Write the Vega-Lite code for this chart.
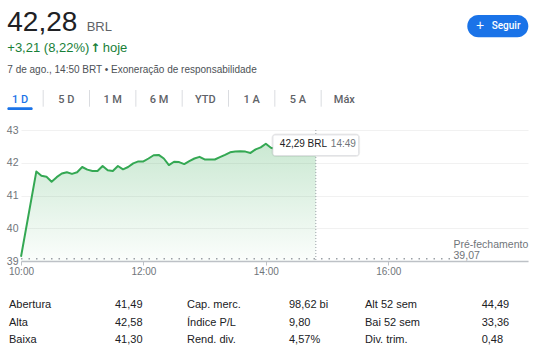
{
  "$schema": "https://vega.github.io/schema/vega-lite/v6.json",
  "width": 507,
  "height": 131,
  "autosize": {"type": "none"},
  "padding": {"left": 21, "top": 130, "right": 7, "bottom": 96},
  "background": "#ffffff",
  "config": {
    "font": "Arial, 'Liberation Sans', sans-serif",
    "view": {"stroke": null},
    "text": {"font": "Arial, 'Liberation Sans', sans-serif"}
  },
  "datasets": {
    "prices": [
      {"t": "2024-08-07T10:00", "price": 39.13},
      {"t": "2024-08-07T10:15", "price": 41.73},
      {"t": "2024-08-07T10:20", "price": 41.60},
      {"t": "2024-08-07T10:25", "price": 41.57},
      {"t": "2024-08-07T10:30", "price": 41.42},
      {"t": "2024-08-07T10:35", "price": 41.56},
      {"t": "2024-08-07T10:40", "price": 41.67},
      {"t": "2024-08-07T10:45", "price": 41.71},
      {"t": "2024-08-07T10:50", "price": 41.66},
      {"t": "2024-08-07T10:55", "price": 41.71},
      {"t": "2024-08-07T11:00", "price": 41.87},
      {"t": "2024-08-07T11:05", "price": 41.79},
      {"t": "2024-08-07T11:10", "price": 41.75},
      {"t": "2024-08-07T11:15", "price": 41.75},
      {"t": "2024-08-07T11:20", "price": 41.90},
      {"t": "2024-08-07T11:25", "price": 41.77},
      {"t": "2024-08-07T11:30", "price": 41.75},
      {"t": "2024-08-07T11:35", "price": 41.90},
      {"t": "2024-08-07T11:40", "price": 41.80},
      {"t": "2024-08-07T11:45", "price": 41.87},
      {"t": "2024-08-07T11:50", "price": 41.98},
      {"t": "2024-08-07T11:55", "price": 42.04},
      {"t": "2024-08-07T12:00", "price": 42.04},
      {"t": "2024-08-07T12:05", "price": 42.13},
      {"t": "2024-08-07T12:10", "price": 42.23},
      {"t": "2024-08-07T12:15", "price": 42.24},
      {"t": "2024-08-07T12:20", "price": 42.13},
      {"t": "2024-08-07T12:25", "price": 41.93},
      {"t": "2024-08-07T12:30", "price": 42.03},
      {"t": "2024-08-07T12:35", "price": 42.02},
      {"t": "2024-08-07T12:40", "price": 41.96},
      {"t": "2024-08-07T12:45", "price": 42.05},
      {"t": "2024-08-07T12:50", "price": 42.13},
      {"t": "2024-08-07T12:55", "price": 42.18},
      {"t": "2024-08-07T13:00", "price": 42.10},
      {"t": "2024-08-07T13:05", "price": 42.10},
      {"t": "2024-08-07T13:10", "price": 42.10},
      {"t": "2024-08-07T13:15", "price": 42.17},
      {"t": "2024-08-07T13:20", "price": 42.24},
      {"t": "2024-08-07T13:25", "price": 42.32},
      {"t": "2024-08-07T13:30", "price": 42.34},
      {"t": "2024-08-07T13:35", "price": 42.35},
      {"t": "2024-08-07T13:40", "price": 42.34},
      {"t": "2024-08-07T13:45", "price": 42.30},
      {"t": "2024-08-07T13:50", "price": 42.41},
      {"t": "2024-08-07T13:55", "price": 42.47},
      {"t": "2024-08-07T14:00", "price": 42.58},
      {"t": "2024-08-07T14:05", "price": 42.46},
      {"t": "2024-08-07T14:10", "price": 42.42},
      {"t": "2024-08-07T14:15", "price": 42.38},
      {"t": "2024-08-07T14:20", "price": 42.36},
      {"t": "2024-08-07T14:25", "price": 42.33},
      {"t": "2024-08-07T14:30", "price": 42.31},
      {"t": "2024-08-07T14:35", "price": 42.32},
      {"t": "2024-08-07T14:40", "price": 42.30},
      {"t": "2024-08-07T14:45", "price": 42.31},
      {"t": "2024-08-07T14:49", "price": 42.29}
    ],
    "prev": [
      {"start": "2024-08-07T10:00", "end": "2024-08-07T17:04", "close": 39.07, "label": "Pré-fechamento", "value": "39,07"}
    ],
    "hover": [
      {"t": "2024-08-07T14:49", "price": 42.29, "priceLabel": "42,29 BRL", "timeLabel": "14:49"}
    ],
    "tabs": [
      {"tab": "1 D"}, {"tab": "5 D"}, {"tab": "1 M"}, {"tab": "6 M"},
      {"tab": "YTD"}, {"tab": "1 A"}, {"tab": "5 A"}, {"tab": "Máx"}
    ],
    "stats": [
      {"line": 1, "col": 1, "label": "Abertura", "value": "41,49"},
      {"line": 2, "col": 1, "label": "Alta", "value": "42,58"},
      {"line": 3, "col": 1, "label": "Baixa", "value": "41,30"},
      {"line": 1, "col": 2, "label": "Cap. merc.", "value": "98,62 bi"},
      {"line": 2, "col": 2, "label": "Índice P/L", "value": "9,80"},
      {"line": 3, "col": 2, "label": "Rend. div.", "value": "4,57%"},
      {"line": 1, "col": 3, "label": "Alt 52 sem", "value": "44,49"},
      {"line": 2, "col": 3, "label": "Bai 52 sem", "value": "33,36"},
      {"line": 3, "col": 3, "label": "Div. trim.", "value": "0,48"}
    ]
  },
  "layer": [
    {
      "encoding": {
        "y": {
          "type": "quantitative",
          "scale": {"domain": [39, 43], "zero": false, "nice": false},
          "axis": {
            "values": [39, 40, 41, 42, 43],
            "tickCount": 5,
            "title": null,
            "grid": true,
            "gridColor": "#f1f1f1",
            "domain": false,
            "ticks": false,
            "labelPadding": 3,
            "labelFontSize": 10.5,
            "labelColor": "#70757a",
            "labelFlush": false,
            "labelOverlap": false
          }
        }
      },
      "layer": [
        {
          "data": {"name": "prices"},
          "mark": {
            "type": "area",
            "opacity": 1,
            "color": {
              "gradient": "linear",
              "x1": 1, "y1": 1, "x2": 1, "y2": 0,
              "stops": [
                {"offset": 0, "color": "rgba(52,168,83,0.02)"},
                {"offset": 1, "color": "rgba(52,168,83,0.26)"}
              ]
            }
          },
          "encoding": {
            "x": {
              "field": "t", "type": "temporal",
              "scale": {
                "domain": [
                  {"year": 2024, "month": 8, "date": 7, "hours": 10},
                  {"year": 2024, "month": 8, "date": 7, "hours": 18, "minutes": 17}
                ],
                "nice": false
              },
              "axis": {
                "values": [
                  {"year": 2024, "month": 8, "date": 7, "hours": 10},
                  {"year": 2024, "month": 8, "date": 7, "hours": 12},
                  {"year": 2024, "month": 8, "date": 7, "hours": 14},
                  {"year": 2024, "month": 8, "date": 7, "hours": 16}
                ],
                "format": "%H:%M",
                "title": null,
                "grid": false,
                "labelFontSize": 10,
                "labelColor": "#70757a",
                "labelPadding": 1,
                "labelFlush": false,
                "labelOverlap": false,
                "tickSize": 4,
                "tickColor": "#bdc1c6",
                "domainColor": "#bdc1c6",
                "domainWidth": 1.5
              }
            },
            "y": {"field": "price", "type": "quantitative"},
            "y2": {"datum": 39}
          }
        },
        {
          "data": {"name": "prices"},
          "mark": {"type": "line", "color": "#34a853", "strokeWidth": 2, "strokeJoin": "round"},
          "encoding": {
            "x": {"field": "t", "type": "temporal"},
            "y": {"field": "price", "type": "quantitative"}
          }
        },
        {
          "data": {"name": "prev"},
          "mark": {"type": "rule", "color": "#9aa0a6", "strokeWidth": 1.5, "strokeDash": [1.5, 6]},
          "encoding": {
            "x": {"field": "start", "type": "temporal"},
            "x2": {"field": "end"},
            "y": {"field": "close", "type": "quantitative"}
          }
        },
        {
          "data": {"name": "prev"},
          "mark": {"type": "text", "align": "left", "baseline": "alphabetic", "dy": -11, "fontSize": 10.5, "color": "#70757a"},
          "encoding": {
            "x": {"field": "end", "type": "temporal"},
            "y": {"field": "close", "type": "quantitative"},
            "text": {"field": "label"}
          }
        },
        {
          "data": {"name": "prev"},
          "mark": {"type": "text", "align": "left", "baseline": "alphabetic", "dy": 0, "fontSize": 10.5, "color": "#70757a"},
          "encoding": {
            "x": {"field": "end", "type": "temporal"},
            "y": {"field": "close", "type": "quantitative"},
            "text": {"field": "value"}
          }
        },
        {
          "data": {"name": "hover"},
          "mark": {"type": "rule", "color": "#9aa0a6", "strokeWidth": 1, "strokeDash": [1, 2]},
          "encoding": {
            "x": {"field": "t", "type": "temporal"}
          }
        },
        {
          "data": {"name": "hover"},
          "mark": {"type": "rect", "fill": "#ffffff", "stroke": "#000000", "strokeOpacity": 0.07, "strokeWidth": 3, "cornerRadius": 3},
          "encoding": {
            "x": {"datum": {"year": 2024, "month": 8, "date": 7, "hours": 14, "minutes": 7}, "type": "temporal"},
            "x2": {"datum": {"year": 2024, "month": 8, "date": 7, "hours": 15, "minutes": 31}},
            "y": {"datum": 42.85, "type": "quantitative"},
            "y2": {"datum": 42.22}
          }
        },
        {
          "data": {"name": "hover"},
          "mark": {"type": "rect", "fill": "#ffffff", "stroke": "#dadce0", "strokeWidth": 0.8, "cornerRadius": 2},
          "encoding": {
            "x": {"datum": {"year": 2024, "month": 8, "date": 7, "hours": 14, "minutes": 7}, "type": "temporal"},
            "x2": {"datum": {"year": 2024, "month": 8, "date": 7, "hours": 15, "minutes": 31}},
            "y": {"datum": 42.85, "type": "quantitative"},
            "y2": {"datum": 42.22}
          }
        },
        {
          "data": {"name": "hover"},
          "mark": {"type": "text", "align": "left", "baseline": "alphabetic", "dx": -36, "dy": -6, "fontSize": 10, "color": "#202124"},
          "encoding": {
            "x": {"field": "t", "type": "temporal"},
            "y": {"field": "price", "type": "quantitative"},
            "text": {"field": "priceLabel"}
          }
        },
        {
          "data": {"name": "hover"},
          "mark": {"type": "text", "align": "left", "baseline": "alphabetic", "dx": 15, "dy": -6, "fontSize": 10, "color": "#70757a"},
          "encoding": {
            "x": {"field": "t", "type": "temporal"},
            "y": {"field": "price", "type": "quantitative"},
            "text": {"field": "timeLabel"}
          }
        }
      ]
    },
    {
      "data": {"name": "tabs"},
      "layer": [
        {
          "mark": {"type": "text", "fontSize": 11, "fontWeight": 500, "font": "Roboto", "align": "center", "baseline": "alphabetic"},
          "encoding": {
            "x": {
              "field": "tab", "type": "nominal", "sort": null,
              "scale": {
                "type": "band",
                "domain": ["1 D", "5 D", "1 M", "6 M", "YTD", "1 A", "5 A", "Máx"],
                "range": [-24.15, 346.5],
                "paddingInner": 0, "paddingOuter": 0
              },
              "axis": null
            },
            "y": {"value": -27.3},
            "text": {"field": "tab"},
            "color": {"condition": {"test": "datum.tab === '1 D'", "value": "#1a73e8"}, "value": "#5f6368"}
          }
        },
        {
          "transform": [{"filter": "datum.tab !== 'Máx'"}],
          "mark": {"type": "rule", "color": "#dadce0", "strokeWidth": 1},
          "encoding": {
            "x": {"field": "tab", "type": "nominal", "bandPosition": 1},
            "y": {"value": -40},
            "y2": {"value": -23.3}
          }
        },
        {
          "transform": [{"filter": "datum.tab === '1 D'"}],
          "mark": {"type": "bar", "width": 25.4, "color": "#1a73e8", "cornerRadius": 1.5},
          "encoding": {
            "x": {"field": "tab", "type": "nominal"},
            "y": {"value": -22.7},
            "y2": {"value": -20}
          }
        }
      ]
    },
    {
      "data": {"name": "stats"},
      "layer": [
        {
          "mark": {"type": "text", "align": "left", "baseline": "alphabetic", "fontSize": 11, "color": "#202124"},
          "encoding": {
            "x": {"field": "col", "type": "ordinal", "scale": {"type": "point", "range": [-12, 344], "padding": 0}, "axis": null},
            "y": {"field": "line", "type": "ordinal", "scale": {"type": "point", "range": [177.7, 213.3], "padding": 0}, "axis": null},
            "text": {"field": "label"}
          }
        },
        {
          "mark": {"type": "text", "align": "left", "baseline": "alphabetic", "fontSize": 11, "color": "#202124"},
          "encoding": {
            "x": {"field": "col", "type": "quantitative", "scale": {"domain": [1, 2, 3], "range": [94, 268, 460.7], "zero": false, "nice": false}, "axis": null},
            "y": {"field": "line", "type": "ordinal"},
            "text": {"field": "value"}
          }
        }
      ],
      "resolve": {"scale": {"x": "independent"}}
    },
    {
      "data": {"values": [{"text": "42,28"}]},
      "mark": {"type": "text", "align": "left", "baseline": "alphabetic", "fontSize": 28, "color": "#202124"},
      "encoding": {"x": {"value": -13.7}, "y": {"value": -99.3}, "text": {"field": "text"}}
    },
    {
      "data": {"values": [{"text": "BRL"}]},
      "mark": {"type": "text", "align": "left", "baseline": "alphabetic", "fontSize": 13, "color": "#5f6368"},
      "encoding": {"x": {"value": 65.7}, "y": {"value": -99.3}, "text": {"field": "text"}}
    },
    {
      "data": {"values": [{"text": "+3,21 (8,22%)"}]},
      "mark": {"type": "text", "align": "left", "baseline": "alphabetic", "fontSize": 13, "color": "#188038"},
      "encoding": {"x": {"value": -13.7}, "y": {"value": -77.7}, "text": {"field": "text"}}
    },
    {
      "data": {"values": [{"text": "↑"}]},
      "mark": {"type": "text", "align": "left", "baseline": "alphabetic", "fontSize": 12, "fontWeight": "bold", "font": "DejaVu Sans", "color": "#188038"},
      "encoding": {"x": {"value": 69.3}, "y": {"value": -78}, "text": {"field": "text"}}
    },
    {
      "data": {"values": [{"text": "hoje"}]},
      "mark": {"type": "text", "align": "left", "baseline": "alphabetic", "fontSize": 13, "color": "#188038"},
      "encoding": {"x": {"value": 81.7}, "y": {"value": -77.7}, "text": {"field": "text"}}
    },
    {
      "data": {"values": [{"text": "7 de ago., 14:50 BRT • Exoneração de responsabilidade"}]},
      "mark": {"type": "text", "align": "left", "baseline": "alphabetic", "fontSize": 10, "color": "#4d5156"},
      "encoding": {"x": {"value": -13.7}, "y": {"value": -57.3}, "text": {"field": "text"}}
    },
    {
      "data": {"values": [{"text": "Seguir"}]},
      "mark": {"type": "rect", "color": "#1a73e8", "cornerRadius": 11},
      "encoding": {"x": {"value": 446.3}, "x2": {"value": 507.3}, "y": {"value": -115}, "y2": {"value": -92.7}}
    },
    {
      "data": {"values": [{"text": "+"}]},
      "mark": {"type": "text", "align": "center", "baseline": "middle", "fontSize": 14, "color": "#ffffff"},
      "encoding": {"x": {"value": 459}, "y": {"value": -104}, "text": {"field": "text"}}
    },
    {
      "data": {"values": [{"text": "Seguir"}]},
      "mark": {"type": "text", "align": "left", "baseline": "middle", "fontSize": 10, "font": "Roboto", "fontWeight": 500, "color": "#ffffff"},
      "encoding": {"x": {"value": 470.7}, "y": {"value": -104}, "text": {"field": "text"}}
    }
  ],
  "resolve": {"scale": {"x": "independent", "y": "independent"}}
}
